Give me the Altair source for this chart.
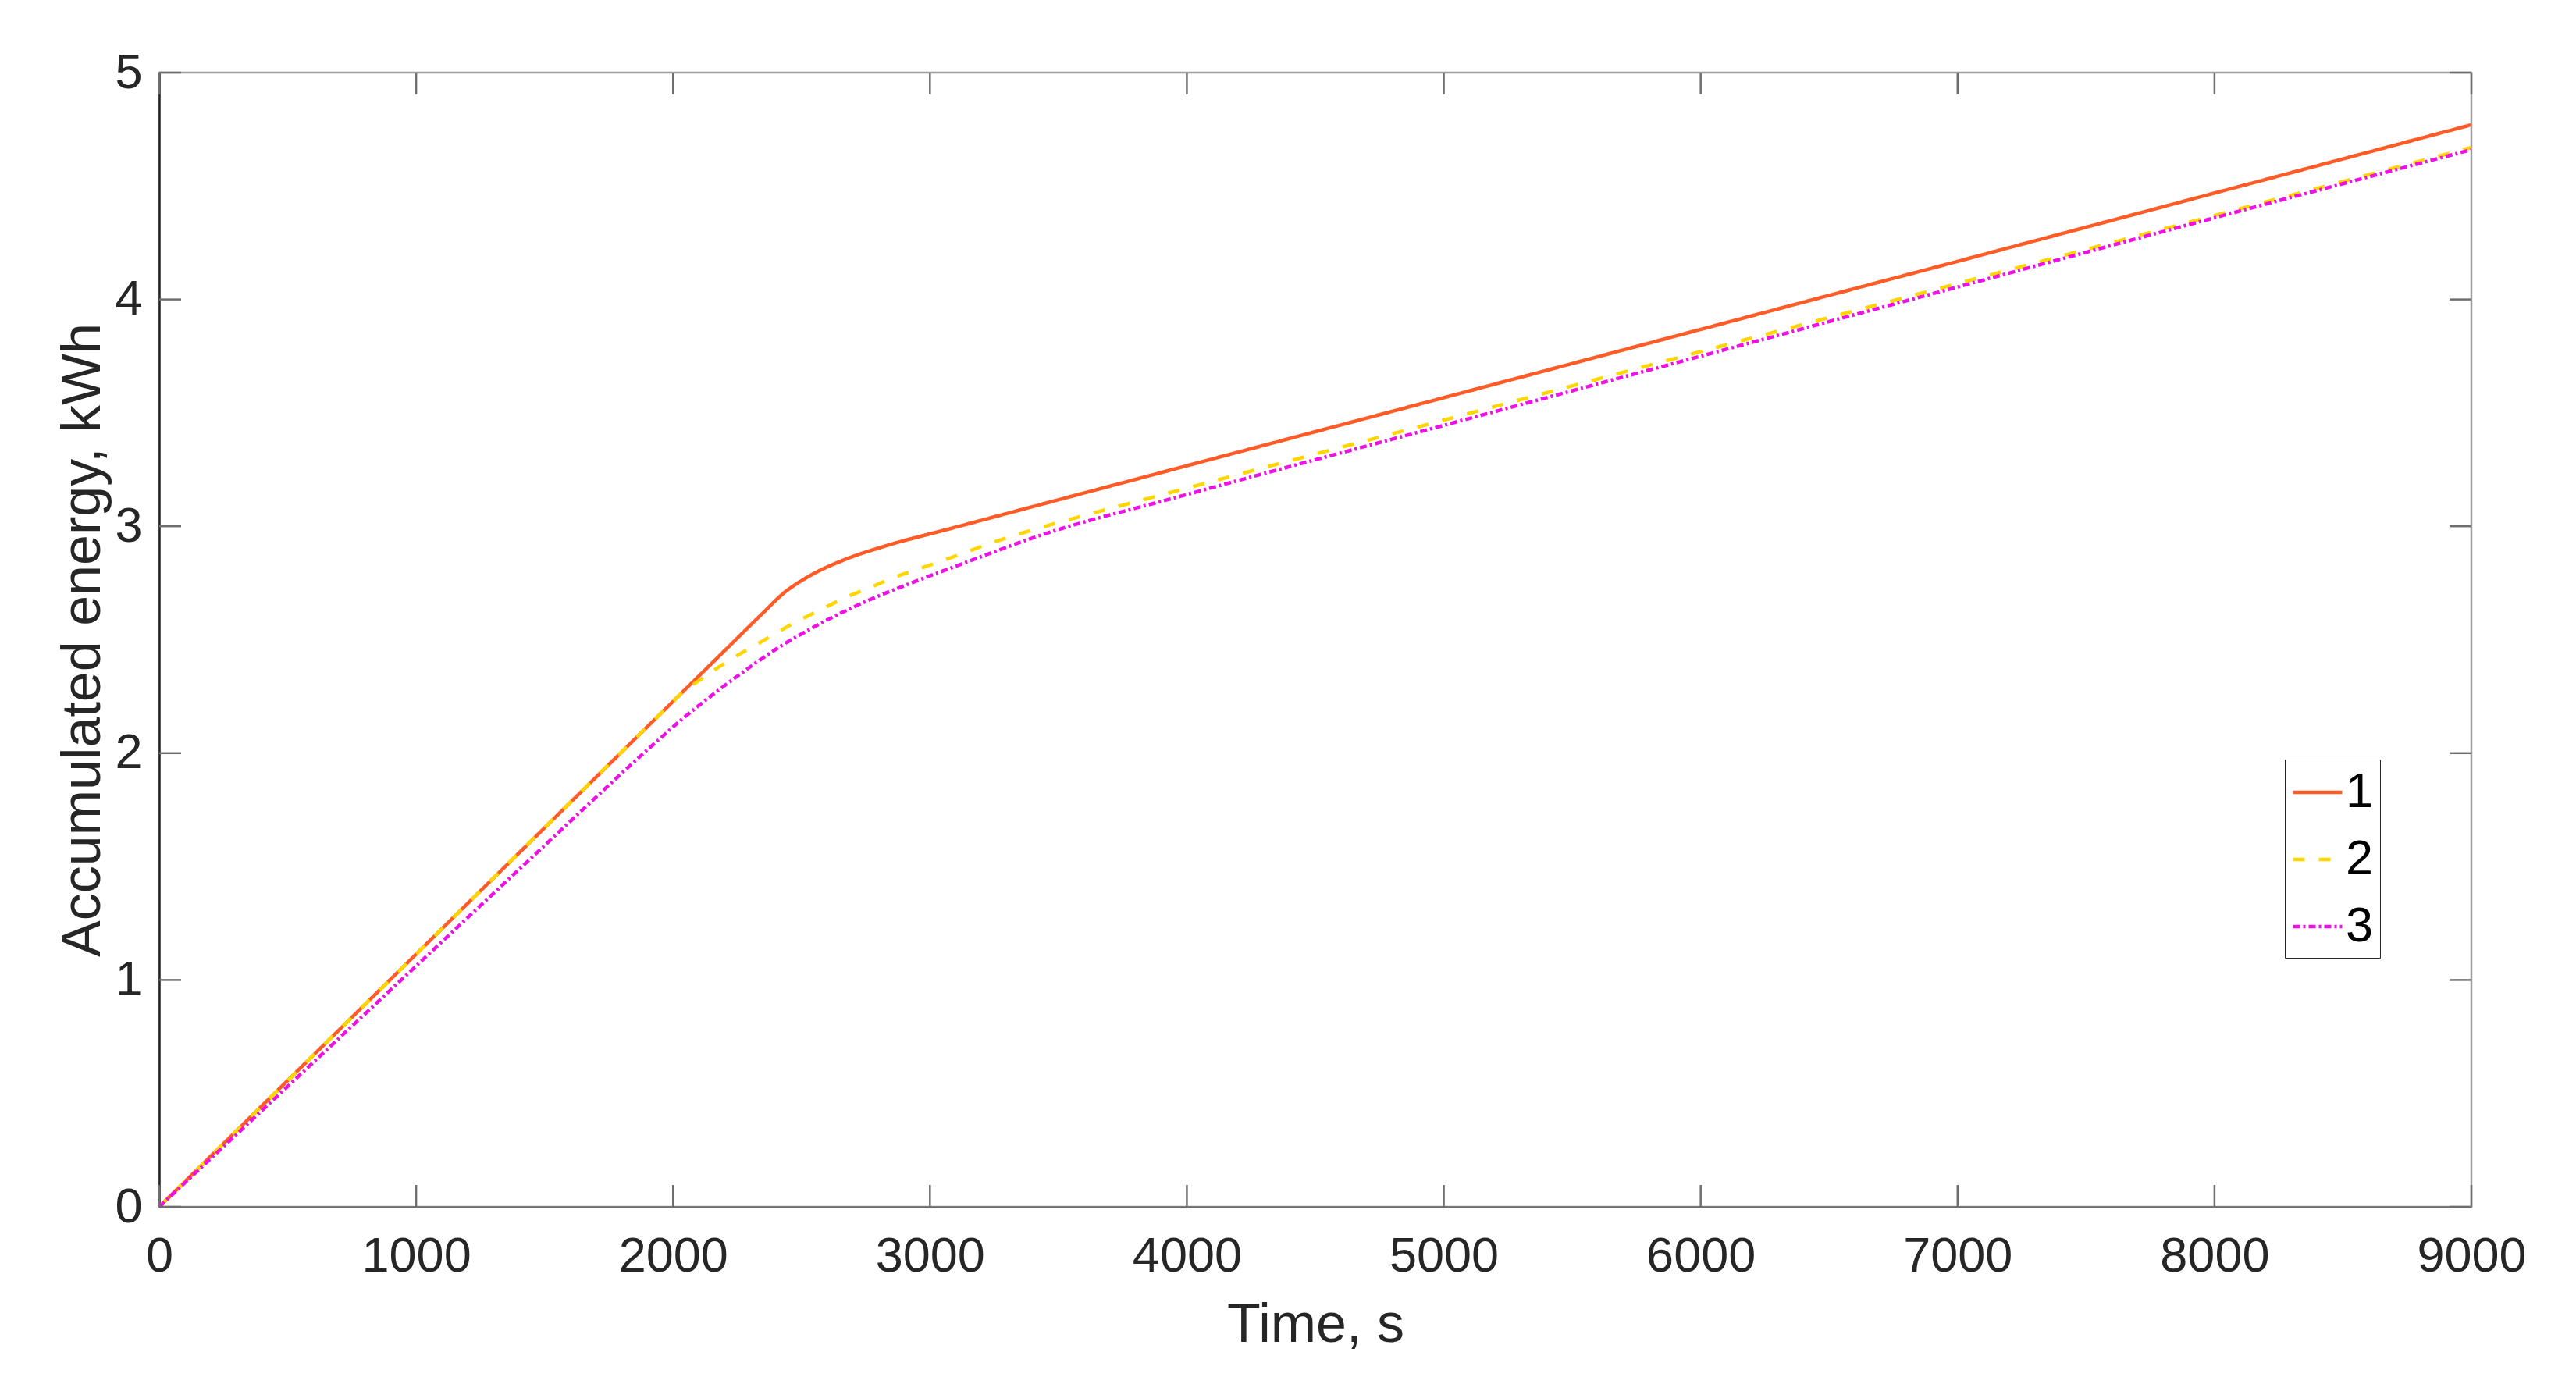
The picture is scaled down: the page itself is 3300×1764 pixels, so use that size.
import altair as alt
import pandas as pd

# ---------------- data ----------------
series_names = ["1", "2", "3"]
series_colors = ["#FF5B27", "#FFD600", "#EE10E4"]
series_dashes = [[1, 0], [15, 18], [9, 4, 3, 4]]

t1 = [0, 1000, 2000, 2200, 2350, 2430, 2520, 2670, 2820, 3080, 4000, 5000, 6000, 7000, 8000, 9000]
e1 = [0, 1.114, 2.228, 2.451, 2.618, 2.705, 2.774, 2.854, 2.911, 2.99, 3.267, 3.567, 3.868, 4.168, 4.469, 4.77]

t2 = [0, 1000, 1900, 2000, 2040, 2095, 2176, 2257, 2338, 2424, 2510, 2596, 2682, 2773, 2859,
      2950, 3041, 3138, 3229, 3320, 3416, 4000, 5000, 6000, 7000, 8000, 9000]
e2 = [0, 1.114, 2.117, 2.228, 2.272, 2.315, 2.378, 2.435, 2.487, 2.544, 2.596, 2.645, 2.691, 2.733, 2.774,
      2.81, 2.845, 2.885, 2.923, 2.957, 2.989, 3.168, 3.468, 3.77, 4.07, 4.37, 4.67]

t3 = [0, 1000, 1500, 1800, 1900, 1963, 2030, 2095, 2175, 2257, 2340, 2424, 2510, 2596, 2773, 2950, 3138, 3416,
      4000, 5000, 6000, 7000, 8000, 9000]
e3 = [0, 1.062, 1.593, 1.911, 2.015, 2.078, 2.145, 2.205, 2.276, 2.345, 2.412, 2.475, 2.532, 2.585, 2.68, 2.76, 2.84, 2.955,
      3.14, 3.445, 3.75, 4.055, 4.36, 4.66]

x_ticks = [0, 1000, 2000, 3000, 4000, 5000, 6000, 7000, 8000, 9000]
y_ticks = [0, 1, 2, 3, 4, 5]

x_title = "Time, s"
y_title = "Accumulated energy, kWh"

# ---------------- build table ----------------
rows = []
for name, ts, es in zip(series_names, [t1, t2, t3], [e1, e2, e3]):
    for t, e in zip(ts, es):
        rows.append({"t": t, "e": e, "series": name})
df = pd.DataFrame(rows)

W, H = 2962, 1453
FONT = "Liberation Sans"
TXT = "#262626"
TICK_LEN = 28

x_scale = alt.Scale(domain=[0, 9000], nice=False, zero=False)
y_scale = alt.Scale(domain=[0, 5], nice=False)

legend = alt.Legend(
    orient="none", legendX=2723, legendY=880, title=None,
    symbolType="stroke", symbolSize=3969, symbolStrokeWidth=4.5,
    labelFontSize=63, labelFont=FONT, labelColor="black", labelOffset=2,
    padding=8, rowPadding=20, strokeColor="#262626", fillColor="white",
)

x_axis = alt.Axis(
    values=x_ticks, format="d", title=x_title, ticks=False, tickSize=0,
    labelPadding=32, labelFontSize=63, labelFont=FONT, labelColor=TXT,
    labelFlush=False, labelOverlap=False, grid=False,
    domainColor="#6e6e6e", domainWidth=2.5,
    titleFont=FONT, titleFontSize=70, titleFontWeight="normal", titleColor=TXT,
    titleX=W / 2, titleY=172, titleBaseline="alphabetic", titleAnchor="middle")
y_axis = alt.Axis(
    values=y_ticks, format="d", title=y_title, ticks=False, tickSize=0,
    labelPadding=22, labelFontSize=63, labelFont=FONT, labelColor=TXT,
    labelFlush=False, labelOverlap=False, grid=False,
    domainColor="#262626", domainWidth=2.5,
    titleFont=FONT, titleFontSize=70, titleFontWeight="normal", titleColor=TXT,
    titleX=-77, titleY=H / 2, titleBaseline="alphabetic", titleAnchor="middle")

lines = alt.Chart(df).mark_line(strokeWidth=4.5, interpolate="monotone").encode(
    x=alt.X("t:Q", scale=x_scale, axis=x_axis),
    y=alt.Y("e:Q", scale=y_scale, axis=y_axis),
    color=alt.Color("series:N", scale=alt.Scale(domain=series_names, range=series_colors), legend=legend),
    strokeDash=alt.StrokeDash("series:N", scale=alt.Scale(domain=series_names, range=series_dashes), legend=legend),
)

xt = pd.DataFrame({"t": x_ticks})
yt = pd.DataFrame({"e": y_ticks})
tick_style = dict(color="#6e6e6e", strokeWidth=2.5)

tick_bottom = alt.Chart(xt).mark_rule(**tick_style).encode(
    x=alt.X("t:Q", scale=x_scale, axis=x_axis), y=alt.value(H), y2=alt.value(H - TICK_LEN))
tick_top = alt.Chart(xt).mark_rule(**tick_style).encode(
    x=alt.X("t:Q", scale=x_scale, axis=x_axis), y=alt.value(0), y2=alt.value(TICK_LEN))
tick_left = alt.Chart(yt).mark_rule(**tick_style).encode(
    y=alt.Y("e:Q", scale=y_scale, axis=y_axis), x=alt.value(0), x2=alt.value(TICK_LEN))
tick_right = alt.Chart(yt).mark_rule(**tick_style).encode(
    y=alt.Y("e:Q", scale=y_scale, axis=y_axis), x=alt.value(W), x2=alt.value(W - TICK_LEN))

chart = alt.layer(lines, tick_bottom, tick_top, tick_left, tick_right).properties(
    width=W, height=H,
    autosize=alt.AutoSizeParams(type="none"),
    padding={"left": 196, "top": 85, "right": 120, "bottom": 200},
    background="white",
).configure_view(stroke="#a0a0a0", strokeWidth=2.5)

chart.save("out.html", embed_options={"renderer": "svg", "actions": False})
